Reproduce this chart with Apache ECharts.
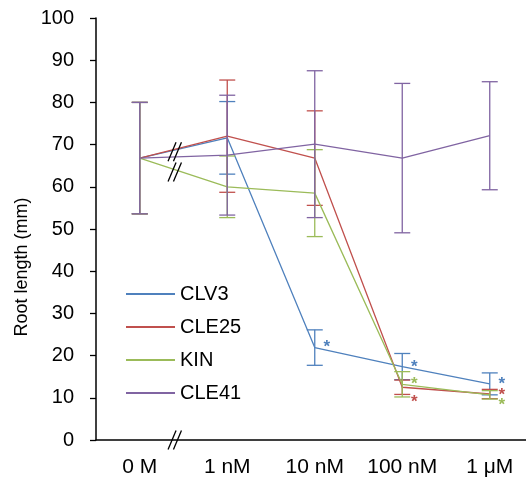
<!DOCTYPE html>
<html><head><meta charset="utf-8">
<script src="https://cdn.jsdelivr.net/npm/echarts@6/dist/echarts.min.js"></script>
<style>html,body{margin:0;padding:0;background:#fff}#c{width:526px;height:480px}</style>
</head><body><div id="c"></div>
<script>
const categories = ['0 M', '1 nM', '10 nM', '100 nM', '1 μM'];
const seriesNames = ['CLV3', 'CLE25', 'KIN', 'CLE41'];
const clv3 = [66.8, 71.6, 21.9, 17.4, 13.3];
const clv3Err = [13.2, 8.6, 4.2, 3.1, 2.6];
const cle25 = [66.8, 72.0, 66.8, 12.5, 10.9];
const cle25Err = [13.2, 13.3, 11.2, 1.7, 1.1];
const kin = [66.8, 60.0, 58.5, 13.2, 10.7];
const kinErr = [13.2, 7.3, 10.3, 3.0, 1.0];
const cle41 = [66.8, 67.5, 70.1, 66.8, 72.1];
const cle41Err = [13.2, 14.2, 17.4, 17.7, 12.8];
// significance asterisks (y position in data units)
const clv3Star = [null, null, 23.0, 18.2, 14.1];
const cle25Star = [null, null, null, 9.9, 11.6];
const kinStar = [null, null, null, 14.1, 9.2];
const cle41Star = [null, null, null, null, null];
const yTicks = {min: 0, max: 100, interval: 10};
const breakPos = 0.4; // fraction between category 0 and 1
const breakLevels = [68.3, 63.5, 0];

const colors = ['#4F81BD', '#C0504D', '#9BBB59', '#8064A2'];
const values = [clv3, cle25, kin, cle41];
const errs = [clv3Err, cle25Err, kinErr, cle41Err];
const stars = [clv3Star, cle25Star, kinStar, cle41Star];

const chart = echarts.init(document.getElementById('c'), null, {renderer: 'canvas'});
const FONT = 'Liberation Sans, Arial, sans-serif';

function errRender(params, api) {
  const i = api.value(0), v = api.value(1), e = api.value(2);
  const top = api.coord([i, v + e]);
  const bot = api.coord([i, v - e]);
  const hw = 8;
  const st = {stroke: api.visual('color'), lineWidth: 1.3};
  return {type: 'group', children: [
    {type: 'line', shape: {x1: top[0], y1: top[1], x2: bot[0], y2: bot[1]}, style: st},
    {type: 'line', shape: {x1: top[0] - hw, y1: top[1], x2: top[0] + hw, y2: top[1]}, style: st},
    {type: 'line', shape: {x1: bot[0] - hw, y1: bot[1], x2: bot[0] + hw, y2: bot[1]}, style: st}
  ]};
}
function starRender(params, api) {
  const p = api.coord([api.value(0), api.value(1)]);
  return {type: 'text', x: p[0] + 12, y: p[1] + 4, style: {text: '*', fill: api.visual('color'), font: 'bold 17px ' + FONT, align: 'center', verticalAlign: 'middle'}};
}

const series = [];
seriesNames.forEach((n, k) => {
  series.push({name: n, type: 'line', data: values[k], symbol: 'none', color: colors[k],
    lineStyle: {width: 1.3, color: colors[k]}, z: 3 + k, animation: false});
});
seriesNames.forEach((n, k) => {
  series.push({name: n, type: 'custom', renderItem: errRender, color: colors[k], z: 3 + k,
    data: values[k].map((v, i) => [i, v, errs[k][i]]), animation: false});
  series.push({name: n, type: 'custom', renderItem: starRender, color: colors[k], z: 10,
    data: stars[k].map((v, i) => v == null ? null : [i, v]).filter(d => d), animation: false});
});

chart.setOption({
  animation: false,
  grid: {left: 96, top: 18, width: 437.5, height: 422, containLabel: false, outerBoundsMode: 'none'},
  legend: {orient: 'vertical', left: 126, top: 284, padding: 0, itemWidth: 49, itemHeight: 2, itemGap: 13,
    icon: 'rect', data: seriesNames,
    textStyle: {fontSize: 20, color: '#000', fontFamily: FONT, lineHeight: 20}},
  xAxis: {type: 'category', data: categories, boundaryGap: true,
    axisLine: {lineStyle: {color: '#000', width: 1.5}}, axisTick: {show: false},
    axisLabel: {interval: 0, fontSize: 21, color: '#000', fontFamily: FONT, margin: 17}},
  yAxis: {type: 'value', min: yTicks.min, max: yTicks.max, interval: yTicks.interval,
    axisLine: {show: true, lineStyle: {color: '#000', width: 1.5}},
    axisTick: {show: true, length: 6, lineStyle: {color: '#000', width: 1.3}},
    splitLine: {show: false},
    axisLabel: {fontSize: 20, color: '#000', fontFamily: FONT, margin: 22}},
  series: series
});

// break marks
const p0 = chart.convertToPixel({gridIndex: 0}, [0, 0]);
const p1 = chart.convertToPixel({gridIndex: 0}, [1, 0]);
const bx = p0[0] + (p1[0] - p0[0]) * breakPos;
const gr = [];
breakLevels.forEach(lv => {
  const cy = chart.convertToPixel({gridIndex: 0}, [0, lv])[1];
  [-2.7, 2.7].forEach(dx => {
    gr.push({type: 'line', z: 100, shape: {x1: bx + dx - 4, y1: cy + 9.5, x2: bx + dx + 4, y2: cy - 9.5},
      style: {stroke: '#000', lineWidth: 1.3}});
  });
});
gr.push({type: 'text', z: 100, x: 22, y: 267, rotation: Math.PI / 2,
  style: {text: 'Root length (mm)', font: '18px ' + FONT, fill: '#000', align: 'center', verticalAlign: 'middle'}});
chart.setOption({graphic: gr});
</script></body></html>
